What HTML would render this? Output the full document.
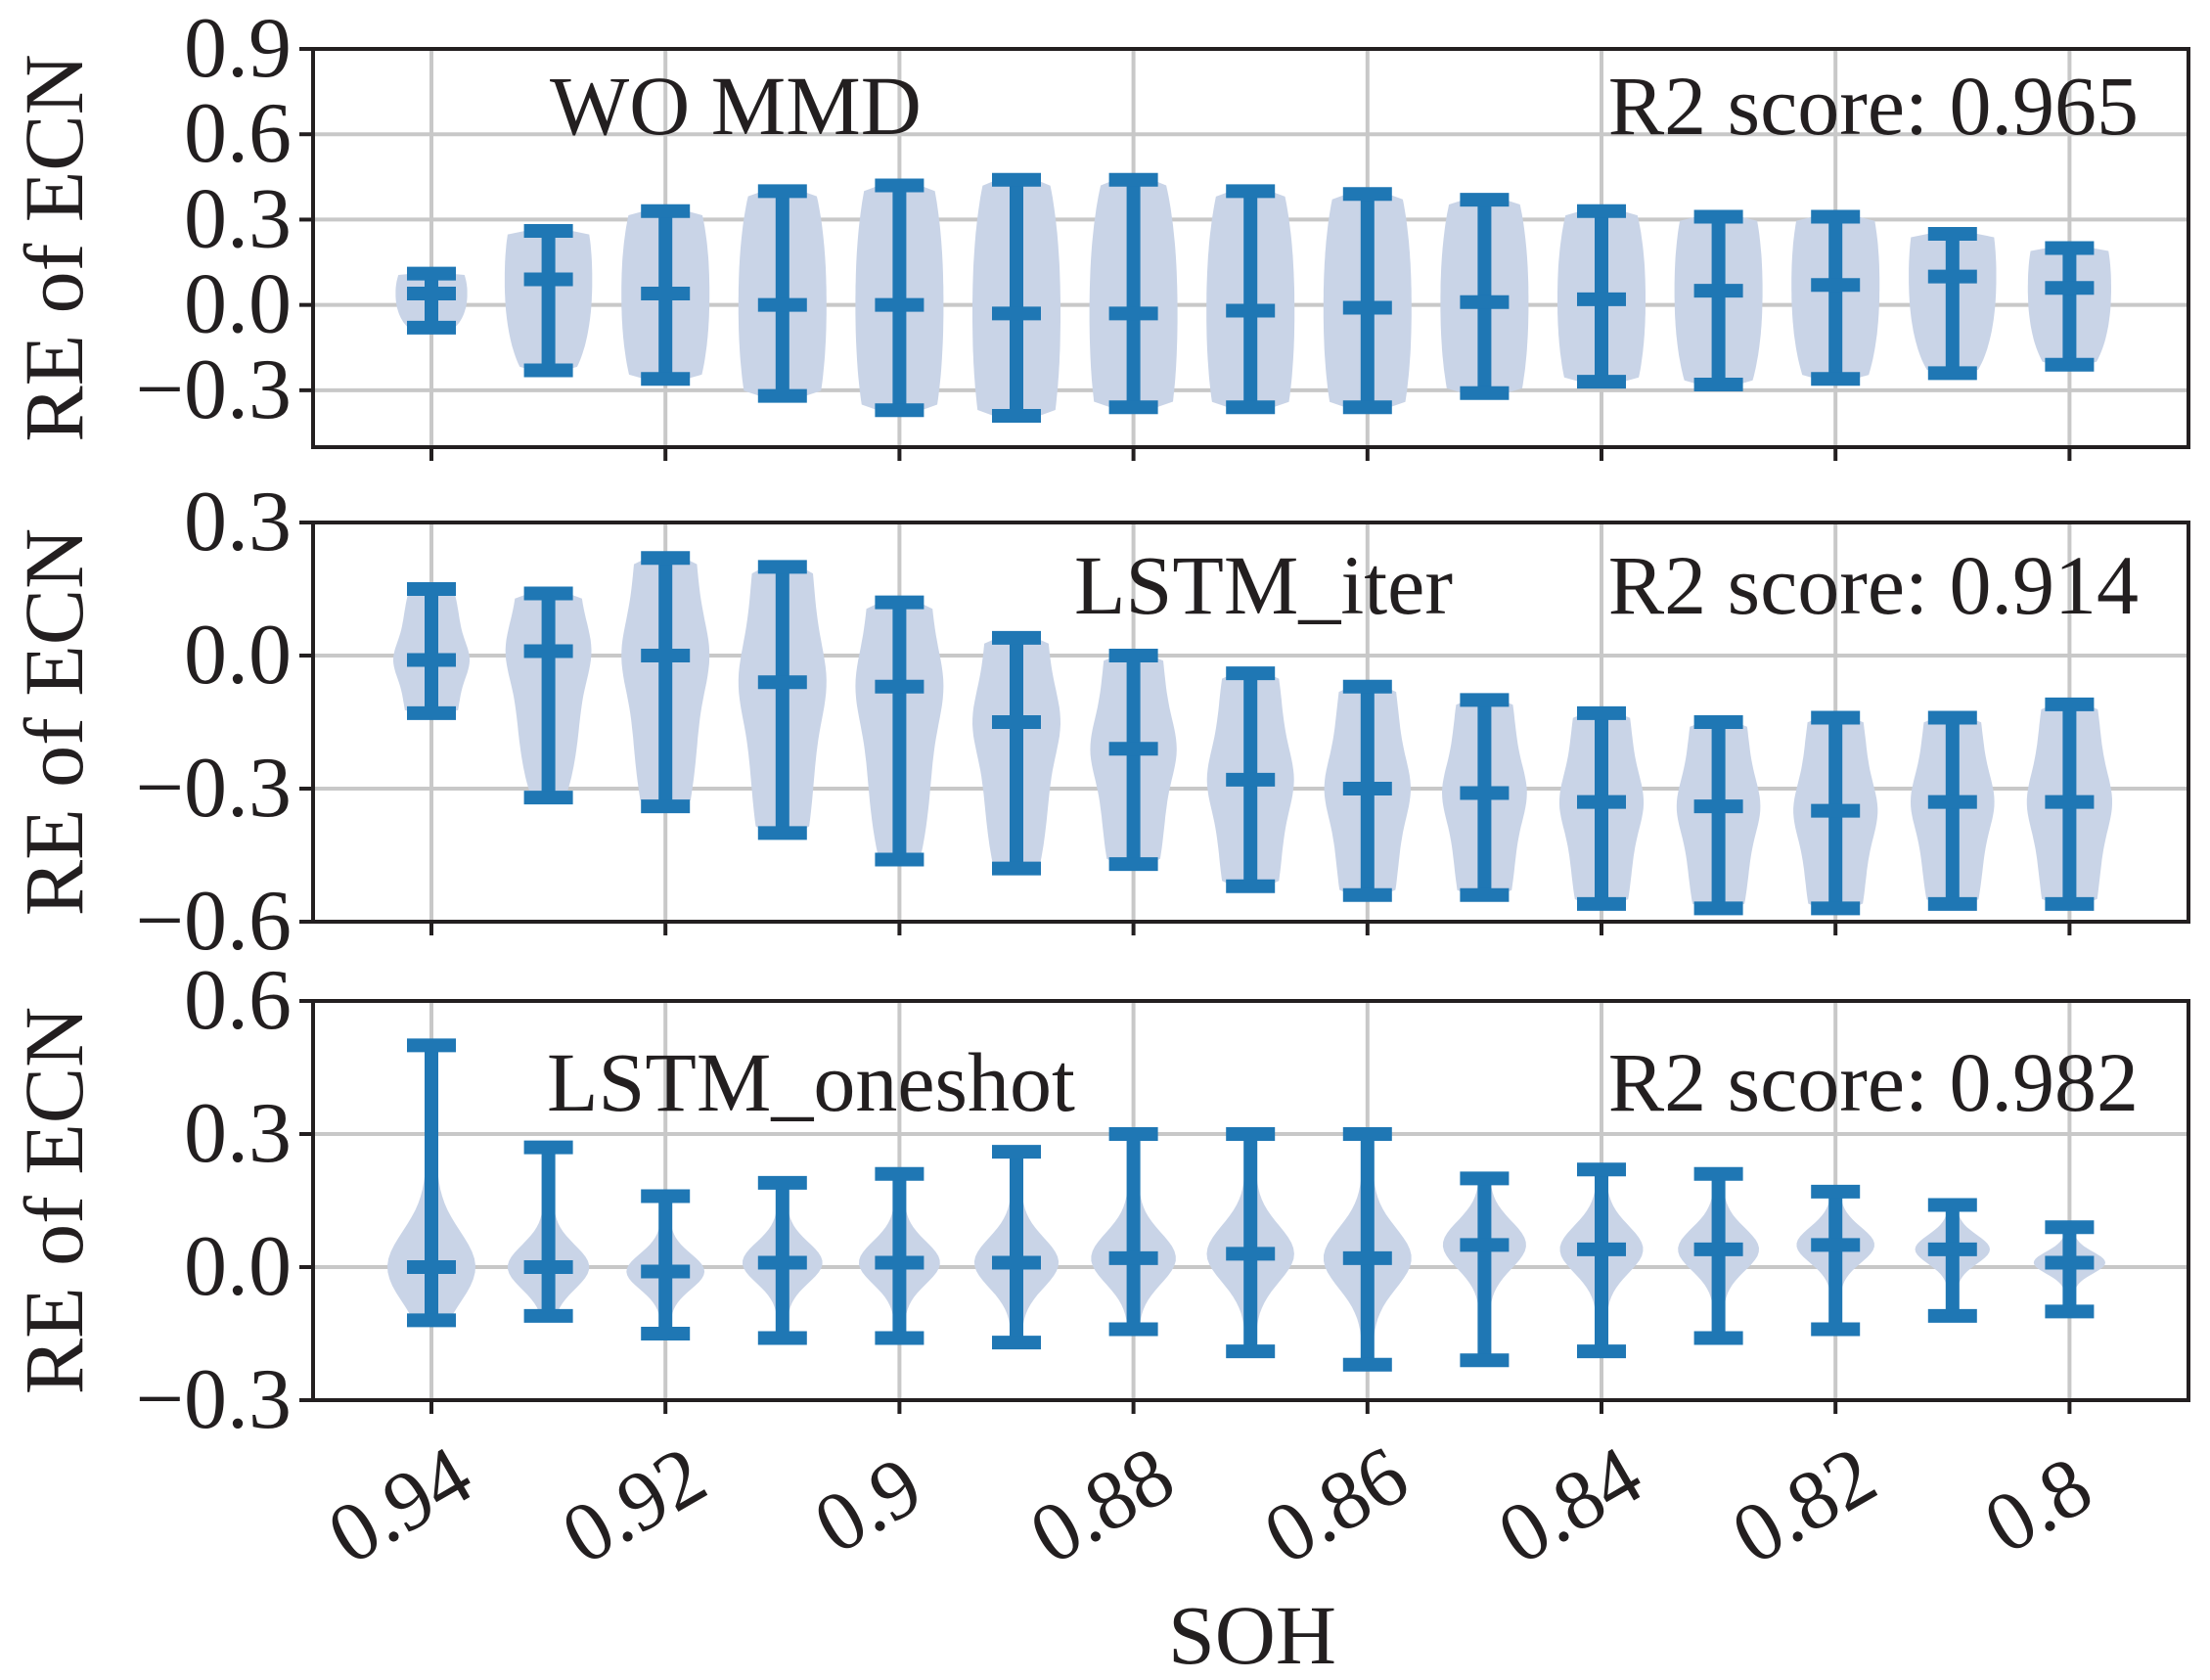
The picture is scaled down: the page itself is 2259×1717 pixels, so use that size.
<!DOCTYPE html>
<html><head><meta charset="utf-8">
<style>
html,body{margin:0;padding:0;background:#fff;}
svg{display:block;font-family:"Liberation Serif",serif;}
</style></head>
<body>
<svg id="chart" width="2259" height="1717" viewBox="0 0 2259 1717" xmlns="http://www.w3.org/2000/svg"></svg>
<script>
const categories=["0.94","0.93","0.92","0.91","0.9","0.89","0.88","0.87","0.86","0.85","0.84","0.83","0.82","0.81","0.8"];
const tickLabels=["0.94","0.92","0.9","0.88","0.86","0.84","0.82","0.8"];
const p1Max=[0.11,0.26,0.33,0.40,0.42,0.44,0.44,0.40,0.39,0.37,0.33,0.31,0.31,0.25,0.20];
const p1Min=[-0.08,-0.23,-0.26,-0.32,-0.37,-0.39,-0.36,-0.36,-0.36,-0.31,-0.27,-0.28,-0.26,-0.24,-0.21];
const p1Mean=[0.04,0.09,0.04,0.0,0.0,-0.03,-0.03,-0.02,-0.01,0.01,0.02,0.05,0.07,0.10,0.06];
const p2Max=[0.15,0.14,0.22,0.20,0.12,0.04,0.0,-0.04,-0.07,-0.10,-0.13,-0.15,-0.14,-0.14,-0.11];
const p2Min=[-0.13,-0.32,-0.34,-0.40,-0.46,-0.48,-0.47,-0.52,-0.54,-0.54,-0.56,-0.57,-0.57,-0.56,-0.56];
const p2Mean=[-0.01,0.01,0.0,-0.06,-0.07,-0.15,-0.21,-0.28,-0.30,-0.31,-0.33,-0.34,-0.35,-0.33,-0.33];
const p3Max=[0.50,0.27,0.16,0.19,0.21,0.26,0.30,0.30,0.30,0.20,0.22,0.21,0.17,0.14,0.09];
const p3Min=[-0.12,-0.11,-0.15,-0.16,-0.16,-0.17,-0.14,-0.19,-0.22,-0.21,-0.19,-0.16,-0.14,-0.11,-0.10];
const p3Mean=[0.0,0.0,-0.01,0.01,0.01,0.01,0.02,0.03,0.02,0.05,0.04,0.04,0.05,0.04,0.01];
const yTicks1=[-0.3,0.0,0.3,0.6,0.9], yTicks2=[-0.6,-0.3,0.0,0.3], yTicks3=[-0.3,0.0,0.3,0.6];
const yLab1=["\u22120.3","0.0","0.3","0.6","0.9"], yLab2=["\u22120.6","\u22120.3","0.0","0.3"], yLab3=["\u22120.3","0.0","0.3","0.6"];

const NS="http://www.w3.org/2000/svg";
const svg=document.getElementById('chart');
function mk(tag,attrs,parent){const e=document.createElementNS(NS,tag);for(const k in attrs)e.setAttribute(k,attrs[k]);(parent||svg).appendChild(e);return e;}
const L=320,R=2237;
const x0=441,dx=119.6;
function xPos(i){return x0+i*dx;}
const panels=[
 {top:50,bot:457,ymin:-0.5,ymax:0.9,mx:p1Max,mn:p1Min,me:p1Mean,ticks:yTicks1,labs:yLab1,title:"WO MMD",tx:562,r2:"R2 score: 0.965",ty:137,peak:0.0},
 {top:534,bot:942,ymin:-0.6,ymax:0.3,mx:p2Max,mn:p2Min,me:p2Mean,ticks:yTicks2,labs:yLab2,title:"LSTM_iter",tx:1098,r2:"R2 score: 0.914",ty:627,peak:0.25},
 {top:1023,bot:1431,ymin:-0.3,ymax:0.6,mx:p3Max,mn:p3Min,me:p3Mean,ticks:yTicks3,labs:yLab3,title:"LSTM_oneshot",tx:559,r2:"R2 score: 0.982",ty:1135,peak:1.0}
];
panels.forEach((p,pi)=>{
 const g=mk('g',{});
 
 
 const y=v=>p.bot-(v-p.ymin)/(p.ymax-p.ymin)*(p.bot-p.top);
 p.ticks.forEach(t=>{const l=mk('line',{x1:L,x2:R,y1:y(t),y2:y(t),stroke:'#c8c8c8','stroke-width':4},g);
  });
 categories.forEach((c,i)=>{if(i%2===0){const l=mk('line',{x1:xPos(i),x2:xPos(i),y1:p.top,y2:p.bot,stroke:'#c8c8c8','stroke-width':4},g);
  }});
 categories.forEach((c,i)=>{
  const mn=p.mn[i],mx=p.mx[i],me=p.me[i],span=mx-mn;
  const W=45*Math.min(1,0.7+span*0.6);
  const pts=[],N=40;
  for(let k=0;k<=N;k++){const v=mn+span*k/N;
   const d=(v-me)/span;
   const broad=Math.pow(Math.max(0,1-Math.pow(Math.abs(d)*1.3,2.2)),0.55)*0.8+0.2;
   const narrow=Math.exp(-Math.pow(d/0.13,2)/2);
   let w=(1-p.peak)*broad+p.peak*(0.12+0.88*narrow);
   if(k===0||k===N)w*=0.6;
   pts.push([w*W,y(v)]);}
  let dStr='M'+pts.map(q=>(xPos(i)+q[0]).toFixed(1)+','+q[1].toFixed(1)).join(' L');
  dStr+=' L'+pts.slice().reverse().map(q=>(xPos(i)-q[0]).toFixed(1)+','+q[1].toFixed(1)).join(' L')+'Z';
  const v=mk('path',{d:dStr,fill:'#c9d4e7'},g);
  
  const s=mk('line',{x1:xPos(i),x2:xPos(i),y1:y(mx),y2:y(mn),stroke:'#1f77b4','stroke-width':14},g);
  
  [mx,mn,me].forEach((val,j)=>{const cp=mk('line',{x1:xPos(i)-25,x2:xPos(i)+25,y1:y(val),y2:y(val),stroke:'#1f77b4','stroke-width':14},g);
   });
 });
 const f=mk('rect',{x:L,y:p.top,width:R-L,height:p.bot-p.top,fill:'none',stroke:'#231f20','stroke-width':4},g);
 
 p.ticks.forEach((t,k)=>{mk('line',{x1:L-14,x2:L,y1:y(t),y2:y(t),stroke:'#231f20','stroke-width':4},g);
  const tl=mk('text',{x:298,y:y(t)+28,'text-anchor':'end','font-size':88,fill:'#231f20'},g);
  tl.textContent=p.labs[k];});
 categories.forEach((c,i)=>{if(i%2===0)mk('line',{x1:xPos(i),x2:xPos(i),y1:p.bot,y2:p.bot+14,stroke:'#231f20','stroke-width':4},g);});
 const tt=mk('text',{x:p.tx,y:p.ty,'font-size':86,fill:'#231f20'},g);
 tt.textContent=p.title;
 const r2=mk('text',{x:2186,y:p.ty,'text-anchor':'end','font-size':86,fill:'#231f20'},g);
 r2.textContent=p.r2;
 const cy=(p.top+p.bot)/2;
 const yl=mk('text',{x:0,y:0,'text-anchor':'middle','font-size':86,fill:'#231f20',transform:`translate(84,${cy}) rotate(-90)`},g);
 yl.textContent='RE of ECN';
});
tickLabels.forEach((t,k)=>{const xc=xPos(k*2)-18;
 const tl=mk('text',{x:0,y:0,'text-anchor':'middle','font-size':86,fill:'#231f20',transform:`translate(${xc},${1563}) rotate(-30)`});
 tl.textContent=t;});
const xt=mk('text',{x:1280,y:1700,'text-anchor':'middle','font-size':86,fill:'#231f20'});
xt.textContent='SOH';
</script>
</body></html>
